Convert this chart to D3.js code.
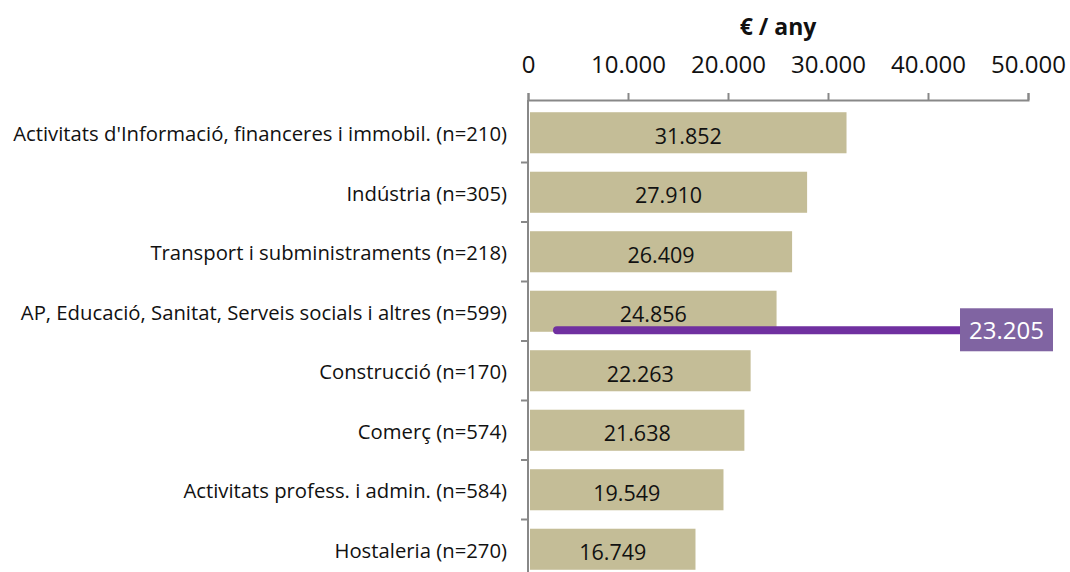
<!DOCTYPE html>
<html>
<head>
<meta charset="utf-8">
<script src="https://cdn.jsdelivr.net/npm/d3@7"></script>
<style>
  body { margin: 0; background: #fff; }
  svg text { font-family: "Open Sans", "Noto Sans", sans-serif; }
</style>
</head>
<body>
<div class="chart"></div>
<script>
var categories = [
  "Activitats d'Informació, financeres i immobil. (n=210)",
  "Indústria (n=305)",
  "Transport i subministraments (n=218)",
  "AP, Educació, Sanitat, Serveis socials i altres (n=599)",
  "Construcció (n=170)",
  "Comerç (n=574)",
  "Activitats profess. i admin. (n=584)",
  "Hostaleria (n=270)"
];
var values = [31852, 27910, 26409, 24856, 22263, 21638, 19549, 16749];
var tickValues = [0, 10000, 20000, 30000, 40000, 50000];
var average = 23205;
var axisTitle = "€ / any";

var width = 1070, height = 572;
var plotLeft = 528, plotRight = 1028, plotTop = 100, plotBottom = 579;

var locale = d3.formatLocale({decimal: ",", thousands: ".", grouping: [3], currency: ["", "€"]});
var fmt = locale.format(",d");

var svg = d3.select(".chart").append("svg")
    .attr("width", width)
    .attr("height", height);

var x = d3.scaleLinear().domain([0, 50000]).range([plotLeft, plotRight]);
var y = d3.scaleBand().domain(categories).range([plotTop + 3, plotBottom]).paddingInner(0.31).paddingOuter(0.155);

// bars
svg.selectAll("rect.bar")
    .data(values)
    .enter()
    .append("rect")
    .attr("class", "bar")
    .attr("x", x(0) + 2)
    .attr("y", function(d, i) { return y(categories[i]); })
    .attr("width", function(d) { return x(d) - x(0) - 2; })
    .attr("height", y.bandwidth())
    .attr("fill", "#c4bd97");

// value labels
svg.selectAll("text.val")
    .data(values)
    .enter()
    .append("text")
    .attr("class", "val")
    .attr("x", function(d) { return (x(0) + x(d)) / 2 + 1; })
    .attr("y", function(d, i) { return y(categories[i]) + y.bandwidth() / 2; })
    .attr("dy", "0.5em")
    .attr("text-anchor", "middle")
    .style("font-size", "21.5px")
    .style("fill", "#111")
    .text(function(d) { return fmt(d); });

// top axis
var xAxis = d3.axisTop(x)
    .tickValues(tickValues)
    .tickSize(7)
    .tickPadding(20)
    .tickFormat(fmt);

var gx = svg.append("g")
    .attr("transform", "translate(0," + plotTop + ")")
    .call(xAxis);
gx.select(".domain").attr("stroke", "#888").attr("stroke-width", 2);
gx.selectAll(".tick line").attr("stroke", "#888").attr("stroke-width", 2);
gx.selectAll(".tick text")
    .style("font-size", "24px")
    .style("font-family", "'Open Sans', 'Noto Sans', sans-serif")
    .attr("fill", "#111");

svg.append("text")
    .attr("x", (plotLeft + plotRight) / 2)
    .attr("y", 35)
    .attr("text-anchor", "middle")
    .style("font-size", "23px")
    .style("font-weight", "bold")
    .style("fill", "#111")
    .text(axisTitle);

// left axis
var yAxis = d3.axisLeft(y).tickSize(0).tickPadding(21);
var gy = svg.append("g")
    .attr("transform", "translate(" + plotLeft + ",0)")
    .call(yAxis);
gy.select(".domain").remove();
gy.selectAll(".tick text")
    .attr("dy", "0.42em")
    .style("font-size", "20.3px")
    .style("font-family", "'Open Sans', 'Noto Sans', sans-serif")
    .attr("fill", "#111");

svg.append("line")
    .attr("x1", plotLeft).attr("x2", plotLeft)
    .attr("y1", plotTop).attr("y2", height)
    .attr("stroke", "#888").attr("stroke-width", 2);

// category separators on the axis
svg.selectAll("line.sep")
    .data(categories.slice(1))
    .enter()
    .append("line")
    .attr("class", "sep")
    .attr("x1", plotLeft - 7).attr("x2", plotLeft)
    .attr("y1", function(d) { return y(d) - y.step() * y.paddingInner() / 2; })
    .attr("y2", function(d) { return y(d) - y.step() * y.paddingInner() / 2; })
    .attr("stroke", "#888").attr("stroke-width", 2);

// average marker
var avgY = y(categories[3]) + y.bandwidth() - 1.5;
svg.append("line")
    .attr("x1", x(2900)).attr("x2", x(43200))
    .attr("y1", avgY).attr("y2", avgY)
    .attr("stroke", "#7030a0")
    .attr("stroke-width", 8)
    .attr("stroke-linecap", "round");

svg.append("rect")
    .attr("x", x(43200))
    .attr("y", avgY - 22)
    .attr("width", 93)
    .attr("height", 43)
    .attr("fill", "#8064a2");

svg.append("text")
    .attr("x", x(43200) + 46.5)
    .attr("y", avgY)
    .attr("dy", "0.36em")
    .attr("text-anchor", "middle")
    .style("font-size", "24px")
    .style("fill", "#fff")
    .text(fmt(average));
</script>
</body>
</html>
